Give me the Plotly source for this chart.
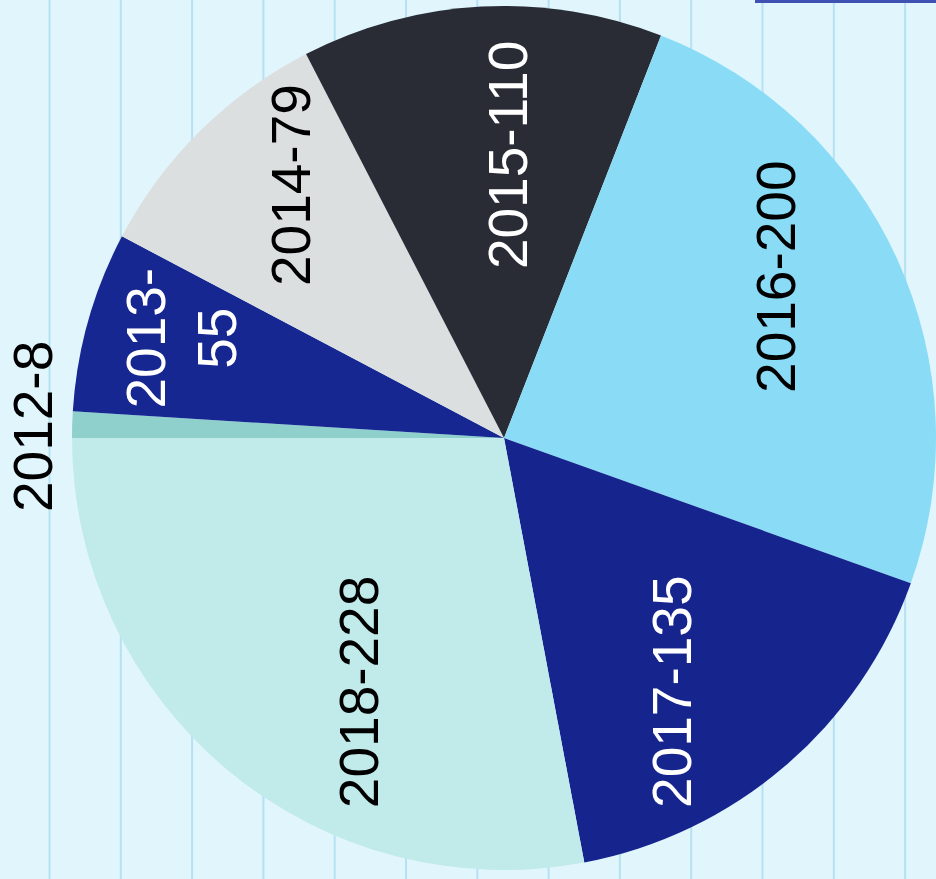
import math
import plotly.graph_objects as go

# ---- data ----
years = ["2012", "2013", "2014", "2015", "2016", "2017", "2018"]
counts = [8, 55, 79, 110, 200, 135, 228]

# ---- styling ----
slice_colors = ["#8fd0cd", "#162791", "#dcdfe0", "#2a2c35", "#8adcf6", "#16248e", "#c1eaea"]
text_colors = ["#000000", "#ffffff", "#000000", "#ffffff", "#000000", "#ffffff", "#000000"]
# label placement relative to each slice's bisector: (angle shift in deg, radius fraction)
label_angle_shift = [-0.4, 1.5, 4.7, 3.8, -6.1, 7.1, -9.8]
label_radius = [1.09, 0.78, 0.764, 0.655, 0.731, 0.705, 0.677]
wrap_labels = {"2013"}

W, H = 936, 879
BG = "#e1f5fd"
GRID = "#b5e1f2"
FONT = "Liberation Sans, Arial, sans-serif"
FONT_SIZE = 55

# pie domain in pixels (left, right, top, bottom)
dom_l, dom_r, dom_t, dom_b = 72, 936, 5, 871
rotation = 270

def label_text(y, v):
    if y in wrap_labels:
        return f"{y}-<br>{v}"
    return f"{y}-{v}"

fig = go.Figure()
fig.add_trace(go.Pie(
    labels=years,
    values=counts,
    sort=False,
    direction="clockwise",
    rotation=rotation,
    marker=dict(colors=slice_colors, line=dict(width=0)),
    textinfo="none",
    hoverinfo="label+value",
    showlegend=False,
    domain=dict(x=[dom_l / W, dom_r / W], y=[1 - dom_b / H, 1 - dom_t / H]),
))

# geometry of the pie derived from its domain
dw, dh = dom_r - dom_l, dom_b - dom_t
R = min(dw, dh) / 2
cx = dom_l + dw / 2
cy = dom_t + dh / 2

total = sum(counts)
start = rotation
annotations = []
for i, (y, v) in enumerate(zip(years, counts)):
    span = v / total * 360
    mid = start + span / 2
    start += span
    ang = math.radians(mid + label_angle_shift[i])
    r = R * label_radius[i]
    px = cx + r * math.sin(ang)
    py = cy - r * math.cos(ang)
    annotations.append(dict(
        x=px / W, y=1 - py / H, xref="paper", yref="paper",
        text=label_text(y, v), showarrow=False, textangle=-90,
        xanchor="center", yanchor="middle",
        font=dict(family=FONT, size=FONT_SIZE, color=text_colors[i]),
    ))

# notebook-style vertical background lines
shapes = []
x0, step = 49.5, 71.3
k = 0
while x0 + step * k < W:
    xp = (x0 + step * k) / W
    shapes.append(dict(type="line", xref="paper", yref="paper", x0=xp, x1=xp, y0=0, y1=1,
                       line=dict(color=GRID, width=2), layer="below"))
    k += 1
# partially visible box edge at the top right
shapes.append(dict(type="rect", xref="paper", yref="paper", x0=755 / W, x1=1, y0=1 - 3 / H, y1=1,
                   fillcolor="#3f52b3", line=dict(width=0), layer="above"))

fig.update_layout(
    width=W, height=H,
    margin=dict(l=0, r=0, t=0, b=0),
    paper_bgcolor=BG, plot_bgcolor=BG,
    annotations=annotations,
    shapes=shapes,
    font=dict(family=FONT),
)

fig.write_html(
    "out.html",
    config={"displayModeBar": False},
    post_script="document.body.style.margin='0';document.body.style.overflow='hidden';",
)
